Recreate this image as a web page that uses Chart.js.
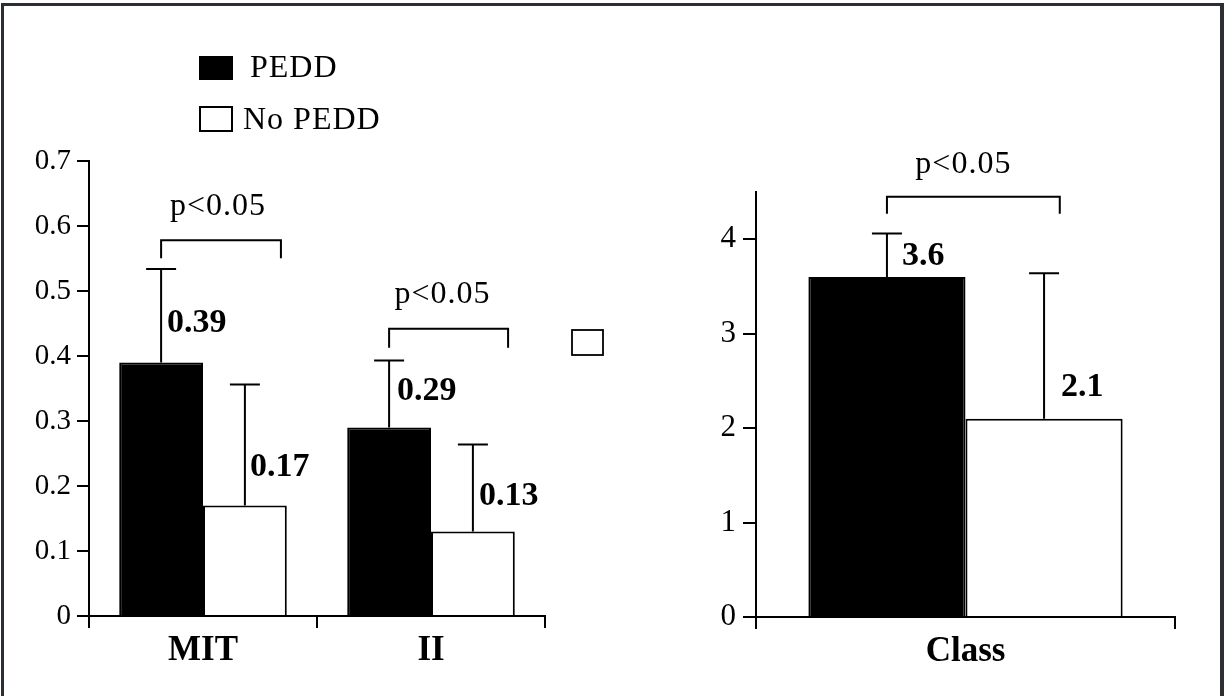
<!DOCTYPE html>
<html>
<head>
<meta charset="utf-8">
<title>PEDD</title>
<script src="https://cdn.jsdelivr.net/npm/chart.js@4.4.0/dist/chart.umd.min.js"></script>
<style>
  html, body { margin: 0; padding: 0; background: #fff; }
  #figure { position: relative; width: 1225px; height: 696px; overflow: hidden; background: #fff; }
  #figure canvas { position: absolute; top: 0; }
  #leftChart { left: 0; }
  #rightChart { left: 620px; }
  .edge { position: absolute; background: #2b2f33; }
</style>
</head>
<body>
<div id="figure">
  <canvas id="leftChart" width="620" height="696"></canvas>
  <canvas id="rightChart" width="605" height="696"></canvas>
  <div class="edge" style="left:1px;top:3px;width:3px;height:693px"></div>
  <div class="edge" style="left:1px;top:3px;width:1223px;height:3px"></div>
  <div class="edge" style="left:1220px;top:3px;width:4px;height:693px"></div>
</div>
<script>
const seriesNames = ['PEDD', 'No PEDD'];

// left panel: MIT and II
const leftCategories = ['MIT', 'II'];
const leftPedd = [0.39, 0.29];
const leftPeddErr = [0.144, 0.103];
const leftNoPedd = [0.17, 0.13];
const leftNoPeddErr = [0.186, 0.134];
const leftTicks = [0, 0.1, 0.2, 0.3, 0.4, 0.5, 0.6, 0.7];

// right panel: Class
const rightCategories = ['Class'];
const rightPedd = [3.6];
const rightPeddErr = [0.46];
const rightNoPedd = [2.1];
const rightNoPeddErr = [1.54];
const rightTicks = [0, 1, 2, 3, 4];

const pLabel = 'p<0.05';
const serif = "'Liberation Serif', 'Times New Roman', serif";

// whiskers, value labels, significance brackets and legend boxes
function overlay(cfg) {
    return {
        id: 'overlay',
        afterDatasetsDraw(chart) {
            const ctx = chart.ctx;
            const y = chart.scales.y;
            ctx.save();
            ctx.strokeStyle = '#000';
            ctx.fillStyle = '#000';
            ctx.lineWidth = 2;

            chart.data.datasets.forEach((ds, i) => {
                chart.getDatasetMeta(i).data.forEach((bar, j) => {
                    const top = y.getPixelForValue(ds.data[j] + ds.errors[j]);
                    ctx.beginPath();
                    ctx.moveTo(bar.x, bar.y);
                    ctx.lineTo(bar.x, top);
                    ctx.moveTo(bar.x - 15, top);
                    ctx.lineTo(bar.x + 15, top);
                    ctx.stroke();

                    const off = cfg.valueOffsets[i][j];
                    ctx.font = 'bold 34px ' + serif;
                    ctx.textAlign = 'left';
                    ctx.textBaseline = 'middle';
                    ctx.fillText(String(ds.data[j]), bar.x + off[0], bar.y - off[1]);
                });
            });

            cfg.brackets.forEach(b => {
                const a = chart.getDatasetMeta(0).data[b.index];
                const w = chart.getDatasetMeta(1).data[b.index];
                const x1 = a.x;
                const x2 = w.x - w.width / 2 + b.reach * w.width;
                const yb = y.getPixelForValue(b.top);
                ctx.beginPath();
                ctx.moveTo(x1, yb + b.drop);
                ctx.lineTo(x1, yb);
                ctx.lineTo(x2, yb);
                ctx.lineTo(x2, yb + b.drop);
                ctx.stroke();
                ctx.font = '32px ' + serif;
                ctx.letterSpacing = '1px';
                ctx.textAlign = 'center';
                ctx.textBaseline = 'alphabetic';
                ctx.fillText(pLabel, (x1 + x2) / 2 + b.shift, yb - b.lift);
                ctx.letterSpacing = '0px';
            });

            (cfg.legend || []).forEach((item, i) => {
                const ds = chart.data.datasets[i];
                ctx.fillStyle = ds.backgroundColor;
                ctx.fillRect(item.x, item.y, item.w, item.h);
                ctx.strokeRect(item.x, item.y, item.w, item.h);
                ctx.fillStyle = '#000';
                ctx.font = '32px ' + serif;
                ctx.letterSpacing = '1px';
                ctx.textAlign = 'left';
                ctx.textBaseline = 'alphabetic';
                ctx.fillText(ds.label, item.tx, item.ty);
                ctx.letterSpacing = '0px';
            });

            (cfg.boxes || []).forEach(r => {
                ctx.lineWidth = 1.8;
                ctx.strokeRect(r.x, r.y, r.w, r.h);
            });
            ctx.restore();
        }
    };
}

function makeChart(id, opts) {
    return new Chart(document.getElementById(id), {
        type: 'bar',
        data: {
            labels: opts.labels,
            datasets: [{
                label: seriesNames[0],
                data: opts.pedd,
                errors: opts.peddErr,
                backgroundColor: '#000',
                borderColor: '#000',
                borderWidth: 2,
                categoryPercentage: opts.groupWidth,
                barPercentage: 1
            }, {
                label: seriesNames[1],
                data: opts.noPedd,
                errors: opts.noPeddErr,
                backgroundColor: '#fff',
                borderColor: '#000',
                borderWidth: 2,
                categoryPercentage: opts.groupWidth,
                barPercentage: 1
            }]
        },
        options: {
            responsive: false,
            animation: false,
            devicePixelRatio: 1,
            layout: { padding: opts.padding },
            plugins: { legend: { display: false }, tooltip: { enabled: false } },
            scales: {
                x: {
                    grid: { drawOnChartArea: false, tickLength: 12, color: '#000', lineWidth: 2, offset: true },
                    border: { color: '#000', width: 2 },
                    ticks: {
                        color: '#000',
                        font: { family: serif, size: 35, weight: 'bold' },
                        padding: 2,
                        maxRotation: 0
                    },
                    afterFit: s => { s.height = opts.xHeight; }
                },
                y: {
                    min: 0,
                    max: opts.yMax,
                    grid: { drawOnChartArea: false, tickLength: opts.tickLength, color: '#000', lineWidth: 2 },
                    border: { color: '#000', width: 2 },
                    ticks: {
                        color: '#000',
                        font: { family: serif, size: opts.tickSize },
                        padding: opts.tickPad,
                        callback: v => String(v)
                    },
                    afterBuildTicks: s => { s.ticks = opts.ticks.map(v => ({ value: v })); },
                    afterFit: s => { s.width = opts.yWidth; }
                }
            }
        },
        plugins: [overlay(opts.overlay)]
    });
}

makeChart('leftChart', {
    labels: leftCategories,
    pedd: leftPedd, peddErr: leftPeddErr,
    noPedd: leftNoPedd, noPeddErr: leftNoPeddErr,
    ticks: leftTicks,
    yMax: 0.7,
    groupWidth: 0.735,
    padding: { left: 0, right: 75, top: 161, bottom: 0 },
    xHeight: 80,
    yWidth: 89,
    tickLength: 12,
    tickPad: 6,
    tickSize: 29,
    overlay: {
        valueOffsets: [[[6, 39], [8, 36]], [[5, 38], [6, 35]]],
        brackets: [
            { index: 0, top: 0.578, drop: 18, reach: 0.93, shift: -3, lift: 25 },
            { index: 1, top: 0.442, drop: 19, reach: 0.92, shift: -6, lift: 26 }
        ],
        legend: [
            { x: 200, y: 57, w: 32, h: 22, tx: 250, ty: 77 },
            { x: 200, y: 107, w: 32, h: 24, tx: 243, ty: 129 }
        ],
        boxes: [{ x: 572, y: 330, w: 31, h: 25 }]
    }
});

makeChart('rightChart', {
    labels: rightCategories,
    pedd: rightPedd, peddErr: rightPeddErr,
    noPedd: rightNoPedd, noPeddErr: rightNoPeddErr,
    ticks: rightTicks,
    yMax: 4.5,
    groupWidth: 0.75,
    padding: { left: 0, right: 50, top: 192, bottom: 0 },
    xHeight: 79,
    yWidth: 136,
    tickLength: 13,
    tickPad: 7,
    tickSize: 31,
    overlay: {
        valueOffsets: [[[15, 21]], [[17, 31]]],
        brackets: [
            { index: 0, top: 4.45, drop: 17, reach: 0.6, shift: -10, lift: 24 }
        ]
    }
});
</script>
</body>
</html>
